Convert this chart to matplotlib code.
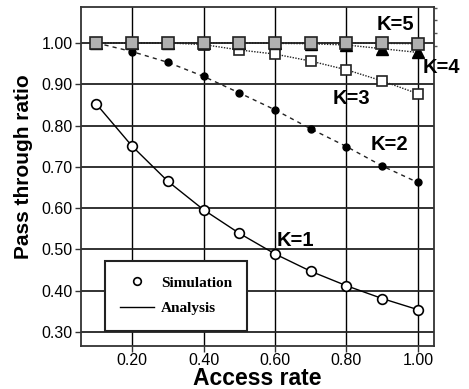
import matplotlib
matplotlib.use("Agg")
import matplotlib.pyplot as plt
from matplotlib.lines import Line2D
from matplotlib.ticker import FixedLocator

access_rate = [0.1, 0.2, 0.3, 0.4, 0.5, 0.6, 0.7, 0.8, 0.9, 1.0]
k1 = [0.852, 0.750, 0.665, 0.596, 0.539, 0.489, 0.447, 0.412, 0.381, 0.354]
k2 = [1.000, 0.979, 0.953, 0.919, 0.879, 0.838, 0.792, 0.749, 0.702, 0.662]
k3 = [1.000, 1.000, 1.000, 0.996, 0.983, 0.973, 0.956, 0.935, 0.908, 0.877]
k4 = [1.000, 1.000, 1.000, 1.000, 1.000, 0.999, 0.998, 0.995, 0.986, 0.977]
k5 = [1.000, 1.000, 1.000, 1.000, 1.000, 1.000, 1.000, 1.000, 0.999, 0.998]

xticks = [0.2, 0.4, 0.6, 0.8, 1.0]
xtick_labels = ["0.20", "0.40", "0.60", "0.80", "1.00"]
yticks = [0.3, 0.4, 0.5, 0.6, 0.7, 0.8, 0.9, 1.0]
ytick_labels = ["0.30", "0.40", "0.50", "0.60", "0.70", "0.80", "0.90", "1.00"]
right_minor_ticks = [0.992, 1.023, 1.055, 1.085]

plt.rcParams['font.family'] = ['Liberation Sans', 'DejaVu Sans']

fig = plt.figure(figsize=(4.69, 3.89), dpi=100)
ax = fig.add_axes([0.1727, 0.1105, 0.7527, 0.8715])

ax.set_xlim(0.057, 1.045)
ax.set_ylim(0.266, 1.087)

ax.set_xticks(xticks)
ax.set_xticklabels(xtick_labels)
ax.set_yticks(yticks)
ax.set_yticklabels(ytick_labels)
ax.tick_params(axis='both', labelsize=11.5, length=4, width=1, color='#333333', pad=2)
ax.tick_params(axis='x', pad=1)
ax.yaxis.set_minor_locator(FixedLocator(right_minor_ticks))
ax.tick_params(axis='y', which='minor', left=False, right=True, length=2.5,
               width=1, color='#555555', direction='out')

ax.grid(True, axis='x', color='black', linewidth=1.0)
ax.grid(True, axis='y', which='major', color='#222222', linewidth=1.3)
ax.set_axisbelow(True)
for s in ax.spines.values():
    s.set_color('#333333')
    s.set_linewidth(1.3)

ax.plot(access_rate, k5, color='#222222', linestyle=(0, (1, 1)), linewidth=1.0,
        marker='s', markersize=8.5, markerfacecolor='#b0b0b0', markeredgecolor='#222222', markeredgewidth=1.2, zorder=6)
ax.plot(access_rate, k4, color='#222222', linestyle=(0, (1, 1)), linewidth=1.0,
        marker='^', markersize=8.5, markerfacecolor='black', markeredgecolor='black', zorder=5)
ax.plot(access_rate, k3, color='#222222', linestyle=(0, (1, 1)), linewidth=1.0,
        marker='s', markersize=7.5, markerfacecolor='white', markeredgecolor='#222222', markeredgewidth=1.2, zorder=4)
ax.plot(access_rate, k2, color='#222222', linestyle=(0, (3, 3)), linewidth=1.0,
        marker='o', markersize=5, markerfacecolor='black', markeredgecolor='black', zorder=4)
ax.plot(access_rate, k1, color='black', linestyle='-', linewidth=1.0,
        marker='o', markersize=7, markerfacecolor='white', markeredgecolor='black', markeredgewidth=1.2, zorder=4)

lab = dict(fontsize=14.5, fontweight='bold', color='black', ha='center', va='center')
ax.text(0.937, 1.0436, "K=5", **lab)
ax.text(1.066, 0.941, "K=4", **lab)
ax.text(0.8126, 0.866, "K=3", **lab)
ax.text(0.919, 0.755, "K=2", **lab)
ax.text(0.656, 0.522, "K=1", **lab)

ax.set_xlabel("Access rate", fontsize=16.5, fontweight='bold', labelpad=-1)
ax.set_ylabel("Pass through ratio", fontsize=15, fontweight='bold')
ax.yaxis.set_label_coords(-0.136, 0.528)

handles = [
    Line2D([], [], linestyle='none', marker='o', markersize=5.5, markerfacecolor='white',
           markeredgecolor='black', markeredgewidth=1.2),
    Line2D([], [], color='black', linewidth=1.0),
]
leg = ax.legend(handles, ["Simulation", "Analysis"], loc='lower left',
                bbox_to_anchor=(0.068, 0.045), fancybox=False, framealpha=1,
                edgecolor='#222222', handlelength=2.2, handletextpad=0.45,
                borderpad=1.0, labelspacing=0.8, borderaxespad=0,
                prop={'family': ['Liberation Serif'], 'weight': 'bold', 'size': 11})
leg.get_frame().set_linewidth(1.5)
leg.set_zorder(10)

fig.savefig("out.png", dpi=100)
